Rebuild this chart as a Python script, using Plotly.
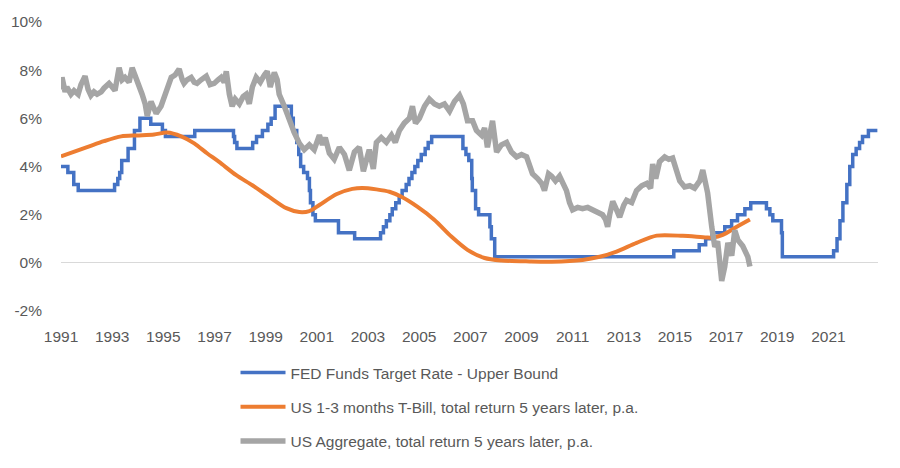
import datetime as dt
import plotly.graph_objects as go

# ---------------- data (dates as placed on the chart's axis) ----------------
fed_dates = [
    "1991-01-01", "1991-04-09", "1991-07-02", "1991-09-04", "1993-02-04", "1993-03-22",
    "1993-04-18", "1993-05-17", "1993-08-16", "1993-11-15", "1994-02-01", "1994-07-06",
    "1994-12-19", "1995-01-31", "1996-03-25", "1997-09-29", "1997-10-15", "1997-11-17",
    "1998-06-30", "1998-08-24", "1998-11-16", "1999-02-02", "1999-03-21", "1999-05-16",
    "2000-01-03", "2000-01-31", "2000-03-20", "2000-04-18", "2000-05-15", "2000-06-27",
    "2000-08-21", "2000-09-17", "2000-10-02", "2000-11-06", "2000-12-11", "2001-11-06",
    "2002-06-25", "2003-06-30", "2003-08-10", "2003-09-21", "2003-11-10", "2003-12-14",
    "2004-02-02", "2004-03-22", "2004-05-03", "2004-06-30", "2004-08-09", "2004-09-20",
    "2004-11-01", "2004-12-13", "2005-01-31", "2005-03-28", "2005-05-10", "2005-06-29",
    "2006-09-18", "2006-10-31", "2006-12-11", "2007-01-22", "2007-01-30", "2007-03-18",
    "2007-04-30", "2007-10-08", "2007-10-29", "2007-12-16", "2014-12-16", "2015-12-14",
    "2016-03-15", "2016-06-14", "2016-12-13", "2017-03-21", "2017-06-13", "2017-09-26",
    "2017-12-19", "2018-07-31", "2018-09-18", "2018-10-30", "2019-03-03", "2019-03-15",
    "2021-03-16", "2021-05-04", "2021-06-15", "2021-07-27", "2021-09-21", "2021-11-02",
    "2021-12-14", "2022-02-01", "2022-03-22", "2022-05-03", "2022-07-26", "2022-12-01",
]
fed_rate = [
    4.0, 3.75, 3.25, 3.0, 3.25, 3.5,
    3.75, 4.25, 4.75, 5.5, 6.0, 5.75,
    5.5, 5.25, 5.5, 5.25, 5.0, 4.75,
    5.0, 5.25, 5.5, 5.75, 6.0, 6.5,
    6.0, 5.5, 5.0, 4.5, 4.0, 3.75,
    3.5, 3.0, 2.5, 2.0, 1.75, 1.25,
    1.0, 1.25, 1.5, 1.75, 2.0, 2.25,
    2.5, 2.75, 3.0, 3.25, 3.5, 3.75,
    4.0, 4.25, 4.5, 4.75, 5.0, 5.25,
    4.75, 4.5, 4.25, 3.5, 3.0, 2.25,
    2.0, 1.5, 1.0, 0.25, 0.5, 0.75,
    1.0, 1.25, 1.5, 1.75, 2.0, 2.25,
    2.5, 2.25, 2.0, 1.75, 1.25, 0.25,
    0.5, 1.0, 1.75, 2.5, 3.25, 4.0,
    4.5, 4.75, 5.0, 5.25, 5.5, 5.5,
]

tbill_years = [
    1991.00, 1992.02, 1992.68, 1993.35, 1993.97, 1994.64, 1995.15, 1995.70, 1996.21,
    1996.71, 1997.18, 1997.85, 1998.48, 1999.14, 1999.81, 2000.32, 2000.71, 2001.10,
    2001.76, 2002.39, 2002.78, 2003.33, 2003.84, 2004.31, 2004.93, 2005.60, 2006.26,
    2006.89, 2007.56, 2008.22, 2009.32, 2010.18, 2011.39, 2012.06, 2012.72, 2013.50,
    2014.29, 2015.31, 2016.24, 2016.48, 2016.87, 2017.42, 2017.93,
]
tbill_ret = [
    4.42, 4.80, 5.05, 5.25, 5.29, 5.33, 5.41, 5.25, 4.96,
    4.55, 4.19, 3.64, 3.22, 2.74, 2.27, 2.11, 2.15, 2.40,
    2.85, 3.07, 3.11, 3.05, 2.95, 2.74, 2.33, 1.78, 1.09,
    0.54, 0.20, 0.10, 0.06, 0.05, 0.12, 0.25, 0.47, 0.83,
    1.13, 1.12, 1.05, 1.05, 1.16, 1.50, 1.80,
]

agg_years = [
    1991.00, 1991.04, 1991.16, 1991.23, 1991.39, 1991.51, 1991.67, 1991.78, 1991.94, 1992.06,
    1992.17, 1992.29, 1992.41, 1992.57, 1992.68, 1992.88, 1993.00, 1993.11, 1993.27, 1993.39,
    1993.50, 1993.66, 1993.78, 1993.90, 1993.97, 1994.17, 1994.29, 1994.37, 1994.52, 1994.64,
    1994.72, 1994.91, 1995.03, 1995.15, 1995.31, 1995.46, 1995.62, 1995.74, 1995.81, 1995.93,
    1996.09, 1996.21, 1996.32, 1996.48, 1996.68, 1996.83, 1996.99, 1997.14, 1997.26, 1997.38,
    1997.46, 1997.58, 1997.69, 1997.81, 1997.97, 1998.12, 1998.24, 1998.36, 1998.48, 1998.63,
    1998.79, 1998.95, 1999.06, 1999.18, 1999.34, 1999.45, 1999.53, 1999.73, 1999.92, 2000.12,
    2000.32, 2000.51, 2000.71, 2000.90, 2001.10, 2001.22, 2001.33, 2001.49, 2001.68, 2001.88,
    2002.08, 2002.27, 2002.47, 2002.66, 2002.82, 2002.94, 2003.05, 2003.21, 2003.33, 2003.52,
    2003.72, 2003.92, 2004.07, 2004.23, 2004.42, 2004.62, 2004.74, 2004.86, 2005.01, 2005.21,
    2005.40, 2005.60, 2005.79, 2005.99, 2006.19, 2006.38, 2006.58, 2006.73, 2006.89, 2007.09,
    2007.24, 2007.44, 2007.56, 2007.67, 2007.87, 2008.03, 2008.22, 2008.42, 2008.61, 2008.81,
    2009.00, 2009.20, 2009.43, 2009.63, 2009.79, 2009.90, 2010.06, 2010.18, 2010.33, 2010.49,
    2010.65, 2010.76, 2010.88, 2011.00, 2011.20, 2011.39, 2011.59, 2011.78, 2011.98, 2012.17,
    2012.29, 2012.37, 2012.45, 2012.57, 2012.72, 2012.84, 2013.00, 2013.11, 2013.31, 2013.50,
    2013.70, 2013.90, 2014.05, 2014.13, 2014.25, 2014.40, 2014.60, 2014.76, 2014.91, 2015.07,
    2015.19, 2015.38, 2015.58, 2015.77, 2015.97, 2016.09, 2016.21, 2016.28, 2016.44, 2016.56,
    2016.67, 2016.75, 2016.83, 2016.95, 2017.07, 2017.22, 2017.34, 2017.46, 2017.65, 2017.85,
    2017.93,
]
agg_ret = [
    7.2, 7.7, 7.1, 7.3, 7.0, 7.15, 7.0, 7.4, 7.75, 7.2,
    6.95, 7.1, 7.0, 7.1, 7.25, 7.45, 7.3, 7.15, 8.1, 7.6,
    7.7, 7.5, 8.1, 7.8, 7.5, 7.0, 6.6, 6.1, 6.7, 6.4,
    6.2, 6.5, 6.9, 7.3, 7.7, 7.8, 8.05, 7.6, 7.45, 7.6,
    7.7, 7.5, 7.45, 7.6, 7.75, 7.4, 7.45, 7.6, 7.7, 7.5,
    7.95, 7.0, 6.5, 6.8, 6.6, 6.9, 7.0, 6.6, 7.3, 7.7,
    7.5, 7.8, 7.95, 7.3, 7.9, 7.6, 7.0, 6.5, 5.9, 5.4,
    4.96, 4.7, 4.9, 4.7, 5.3, 4.9, 5.2, 4.55, 4.3, 4.8,
    4.5, 3.84, 4.6, 4.8, 3.8, 4.2, 4.7, 3.9, 5.0, 5.2,
    5.0, 5.3, 5.0, 5.5, 5.8, 6.0, 6.5, 5.8, 6.0, 6.5,
    6.8, 6.6, 6.5, 6.6, 6.3, 6.7, 6.95, 6.6, 5.9, 5.9,
    5.5, 5.3, 5.6, 4.8, 5.9, 4.6, 4.9, 5.0, 4.6, 4.4,
    4.5, 4.4, 3.7, 3.5, 3.3, 3.0, 3.7, 3.6, 3.4, 3.6,
    3.2, 3.0, 2.5, 2.2, 2.3, 2.25, 2.3, 2.2, 2.1, 2.0,
    1.8, 1.5, 2.0, 2.55, 2.2, 1.9, 2.4, 2.6, 2.5, 3.0,
    3.2, 3.3, 3.1, 4.1, 3.5, 4.2, 4.4, 4.3, 4.35, 3.9,
    3.4, 3.15, 3.2, 3.1, 3.4, 3.85, 3.3, 2.9, 1.5, 0.66,
    0.9, 0.0, -0.75, -0.15, 0.83, 0.3, 1.35, 0.95, 0.7, 0.25,
    -0.15,
]

y_ticks = [-2, 0, 2, 4, 6, 8, 10]

names = [
    "FED Funds Target Rate - Upper Bound",
    "US 1-3 months T-Bill, total return 5 years later, p.a.",
    "US Aggregate, total return 5 years later, p.a.",
]
colors = ["#4472C4", "#ED7D31", "#A5A5A5"]


def yr2date(y):
    year = int(y)
    return dt.datetime(year, 1, 1) + dt.timedelta(days=(y - year) * 365.25)


fig = go.Figure()
fig.add_trace(go.Scatter(x=fed_dates, y=fed_rate, mode="lines", name=names[0],
                         line=dict(color=colors[0], width=3.5, shape="hv"),
                         legendgroup="a"))
fig.add_trace(go.Scatter(x=[yr2date(v) for v in tbill_years], y=tbill_ret, mode="lines",
                         name=names[1], line=dict(color=colors[1], width=4, shape="spline",
                                                  smoothing=0.8),
                         legendgroup="b"))
fig.add_trace(go.Scatter(x=[yr2date(v) for v in agg_years], y=agg_ret, mode="lines",
                         name=names[2], line=dict(color=colors[2], width=5.5),
                         legendgroup="c"))

font_family = "Liberation Sans, Arial, sans-serif"
fig.update_layout(
    width=900, height=468,
    margin=dict(l=61, r=22, t=22, b=157, autoexpand=False),
    paper_bgcolor="white", plot_bgcolor="white",
    font=dict(family=font_family, size=15, color="#595959"),
    showlegend=True,
    legend=dict(orientation="v", x=0.2136, y=0.2393, yref="container",
                xanchor="left", yanchor="top",
                font=dict(size=15.5, color="#595959"), tracegroupgap=11,
                itemwidth=45, bgcolor="rgba(0,0,0,0)"),
    xaxis=dict(type="date", range=["1991-01-01", "2022-12-10"], tick0="1991-01-01",
               dtick="M24", tickformat="%Y", showgrid=False, showline=False,
               zeroline=False, ticks="", ticklabelstandoff=14, automargin=False,
               tickfont=dict(size=15.5, color="#595959")),
    yaxis=dict(range=[-2, 10], tickvals=y_ticks, ticktext=[f"{v}%" for v in y_ticks],
               showgrid=False, zeroline=True, zerolinecolor="#d9d9d9", zerolinewidth=1,
               showline=False, ticks="", ticklabelstandoff=18, automargin=False,
               tickfont=dict(size=15.5, color="#595959")),
)

fig.write_html("out.html",
               config={"displayModeBar": False, "responsive": False},
               post_script="document.body.style.margin='0px';"
                           "document.body.style.overflow='hidden';")
